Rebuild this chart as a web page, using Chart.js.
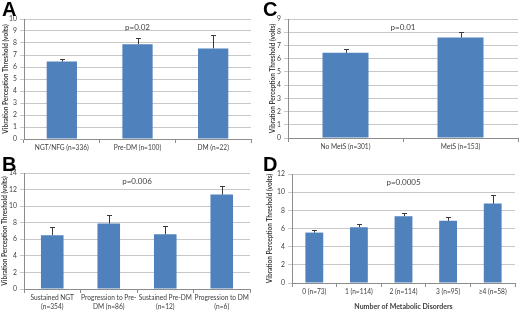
<!DOCTYPE html>
<html><head><meta charset="utf-8">
<script src="https://cdn.jsdelivr.net/npm/chart.js@4/dist/chart.umd.min.js"></script>
<style>
html,body{margin:0;padding:0;background:#fff;}
#wrap{position:relative;width:520px;height:311px;overflow:hidden;}
canvas{position:absolute;}
.lt{position:absolute;font:bold 20px "Liberation Sans",Arial,sans-serif;color:#000;line-height:20px;}
</style></head>
<body><div id="wrap">
<canvas id="cA" width="260" height="155" style="left:0;top:0"></canvas>
<canvas id="cC" width="260" height="155" style="left:260px;top:0"></canvas>
<canvas id="cB" width="260" height="156" style="left:0;top:155px"></canvas>
<canvas id="cD" width="260" height="156" style="left:260px;top:155px"></canvas>
<div class="lt" style="left:2px;top:-1px">A</div>
<div class="lt" style="left:263px;top:-1px">C</div>
<div class="lt" style="left:2px;top:154px">B</div>
<div class="lt" style="left:263px;top:154px">D</div>
</div>
<script>
// ---- data ----
const catsA = ['NGT/NFG (n=336)', 'Pre-DM (n=100)', 'DM (n=22)'];
const meanA = [6.45, 7.9, 7.55];
const errA = [0.25, 0.55, 1.1];
const pA = 'p=0.02';

const catsC = ['No MetS (n=301)', 'MetS (n=153)'];
const meanC = [6.45, 7.6];
const errC = [0.25, 0.45];
const pC = 'p=0.01';

const catsB = [['Sustained NGT', '(n=354)'], ['Progression to Pre-', 'DM (n=86)'], ['Sustained Pre-DM', '(n=12)'], ['Progression to DM', '(n=6)']];
const meanB = [6.5, 7.9, 6.6, 11.4];
const errB = [1.0, 1.0, 1.0, 1.0];
const pB = 'p=0.006';

const catsD = ['0 (n=73)', '1 (n=114)', '2 (n=114)', '3 (n=95)', '\u22654 (n=58)'];
const meanD = [5.55, 6.15, 7.35, 6.85, 8.75];
const errD = [0.3, 0.35, 0.4, 0.45, 0.95];
const pD = 'p=0.0005';

const yTitle = 'Vibration Perception Threshold (volts)';
const xTitleD = 'Number of Metabolic Disorders';

const FONT = 'Lato';
const TXT = '#404040';

const errPlugin = {
  id: 'errbars',
  afterDatasetsDraw(chart, args, o) {
    const ctx = chart.ctx, ys = chart.scales.y;
    const meta = chart.getDatasetMeta(0);
    const vals = chart.data.datasets[0].data;
    ctx.save();
    ctx.strokeStyle = '#3a3a3a';
    ctx.lineWidth = 1;
    o.err.forEach((e, i) => {
      const bx = Math.round(meta.data[i].x) + 0.5;
      const y0 = ys.getPixelForValue(vals[i]);
      const y1 = Math.round(ys.getPixelForValue(vals[i] + e)) + 0.5;
      ctx.beginPath();
      ctx.moveTo(bx, y0); ctx.lineTo(bx, y1);
      ctx.moveTo(bx - 2.5, y1); ctx.lineTo(bx + 2.5, y1);
      ctx.stroke();
    });
    const ca = chart.chartArea;
    ctx.fillStyle = TXT;
    ctx.font = '8px ' + FONT;
    ctx.textAlign = 'center';
    ctx.textBaseline = 'middle';
    ctx.fillText(o.p, (ca.left + ca.right) / 2, ca.top + 8.5);
    ctx.restore();
  }
};

function panel(id, cats, vals, errs, p, ymax, ystep, area, titlePad, xTitle) {
  const cv = document.getElementById(id);
  const W = cv.width, H = cv.height;
  const pad = { left: 0, top: area.t, right: W - area.r, bottom: 0 };
  const dims = { yw: area.l, xh: H - area.b };
  const chart = new Chart(cv, {
    type: 'bar',
    data: { labels: cats, datasets: [{ data: vals, backgroundColor: '#4f81bd', borderWidth: 0,
      categoryPercentage: 0.8, barPercentage: 0.5 }] },
    options: {
      responsive: false, animation: false, devicePixelRatio: 1,
      layout: { padding: pad },
      plugins: { legend: { display: false }, tooltip: { enabled: false },
        errbars: { err: errs, p: p } },
      scales: {
        x: {
          grid: { display: true, drawOnChartArea: false, offset: true, tickLength: 4, color: '#8c8c8c' },
          border: { color: '#8c8c8c' },
          ticks: { color: TXT, font: { family: FONT, size: 6.6, lineHeight: 1.45 }, maxRotation: 0, autoSkip: false, padding: 0 },
          title: xTitle ? { display: true, text: xTitle, color: TXT, font: { family: FONT, size: 7, weight: 'bold' }, padding: { top: 0, bottom: 0 } } : { display: false },
          afterFit(s) { s.height = dims.xh; }
        },
        y: {
          min: 0, max: ymax,
          grid: { color: '#c8c8c8', tickLength: 4 },
          border: { color: '#8c8c8c' },
          ticks: { stepSize: ystep, color: TXT, font: { family: FONT, size: 6.8 }, padding: 3 },
          title: { display: true, text: yTitle, color: TXT, font: { family: FONT, size: 6.5, weight: 'bold' }, padding: { top: titlePad, bottom: 0 } },
          afterFit(s) { s.width = dims.yw; }
        }
      }
    },
    plugins: [errPlugin]
  });
  // correct layout so that the plot area lands where the reference has it
  for (let k = 0; k < 4; k++) {
    const ca = chart.chartArea;
    const dt = area.t - ca.top, db = area.b - ca.bottom, dl = area.l - ca.left, dr = area.r - ca.right;
    if (Math.abs(dt) + Math.abs(db) + Math.abs(dl) + Math.abs(dr) < 0.5) break;
    pad.top += dt; pad.right -= dr;
    dims.xh -= (db - dt);
    dims.yw += dl;
    chart.options.layout.padding = Object.assign({}, pad);
    chart.update();
  }
}

panel('cA', catsA, meanA, errA, pA, 10, 1, { l: 24, t: 19, r: 251, b: 139 }, 2, null);
panel('cC', catsC, meanC, errC, pC, 9, 1, { l: 28, t: 19, r: 258, b: 138 }, 9, null);
panel('cB', catsB, meanB, errB, pB, 14, 2, { l: 24, t: 18, r: 250, b: 134 }, 1, null);
panel('cD', catsD, meanD, errD, pD, 12, 2, { l: 32, t: 19, r: 255, b: 128 }, 6, xTitleD);
</script>
</body></html>
